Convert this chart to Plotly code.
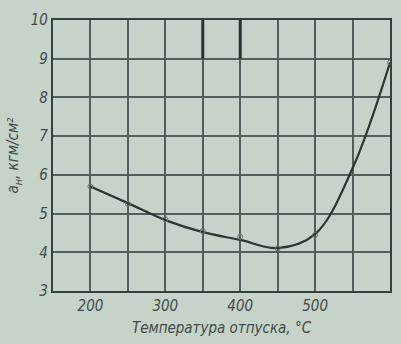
import plotly.graph_objects as go

# Tempering temperature (°C) and impact toughness (кгм/см²)
temps = [200, 250, 300, 350, 400, 450, 500, 600]
toughness = [5.7, 5.25, 4.85, 4.55, 4.4, 4.1, 4.45, 8.9]

# Smoothed curve drawn through the measurements
curve_t = [200, 250, 300, 350, 400, 450, 500, 550, 600]
curve_a = [5.7, 5.27, 4.83, 4.52, 4.32, 4.11, 4.47, 6.17, 8.9]

x_ticks = [200, 300, 400, 500, 600]
y_ticks = [3, 4, 5, 6, 7, 8, 9, 10]

paper = "#c6d3c8"
ink = "#373f3e"
grid = "#535d5b"
label_color = "#414a49"
font_face = "Liberation Sans Narrow, DejaVu Sans Condensed, Arial Narrow, sans-serif"

fig = go.Figure()
fig.add_trace(go.Scatter(
    x=curve_t, y=curve_a, mode="lines",
    line=dict(color="#2f3534", width=2.2, shape="spline", smoothing=1.0),
    hoverinfo="skip", showlegend=False,
))
fig.add_trace(go.Scatter(
    x=temps, y=toughness, mode="markers",
    marker=dict(symbol="circle-open", size=5, color="#6a7472", line=dict(width=1)),
    showlegend=False,
))

# Heavy marks at the top of two grid lines
for xv in (350, 400):
    fig.add_shape(type="line", x0=xv, x1=xv, y0=9, y1=10, xref="x", yref="y",
                  line=dict(color="#2a2f2f", width=3))

axis_common = dict(
    showgrid=True, gridcolor=grid, gridwidth=1.5,
    showline=True, linecolor=ink, linewidth=2.2, mirror=True,
    zeroline=False, ticks="",
    tickfont=dict(family=font_face, size=15, color=label_color, style="italic"),
)

fig.update_xaxes(
    range=[150, 600], tickvals=x_ticks,
    minor=dict(dtick=50, tick0=150, showgrid=True, gridcolor=grid, gridwidth=1.5),
    title=dict(text="Температура отпуска, °C", standoff=8,
               font=dict(family=font_face, size=15, color=label_color, style="italic")),
    **axis_common,
)
fig.update_yaxes(
    range=[3, 10], tickvals=y_ticks, dtick=1,
    title=dict(text="a<sub>н</sub>, кгм/см²", standoff=8,
               font=dict(family=font_face, size=15, color=label_color, style="italic")),
    **axis_common,
)

fig.update_layout(
    width=401, height=344,
    margin=dict(l=53, r=9, t=20, b=53),
    paper_bgcolor=paper, plot_bgcolor=paper,
)

fig.write_html("out.html")
